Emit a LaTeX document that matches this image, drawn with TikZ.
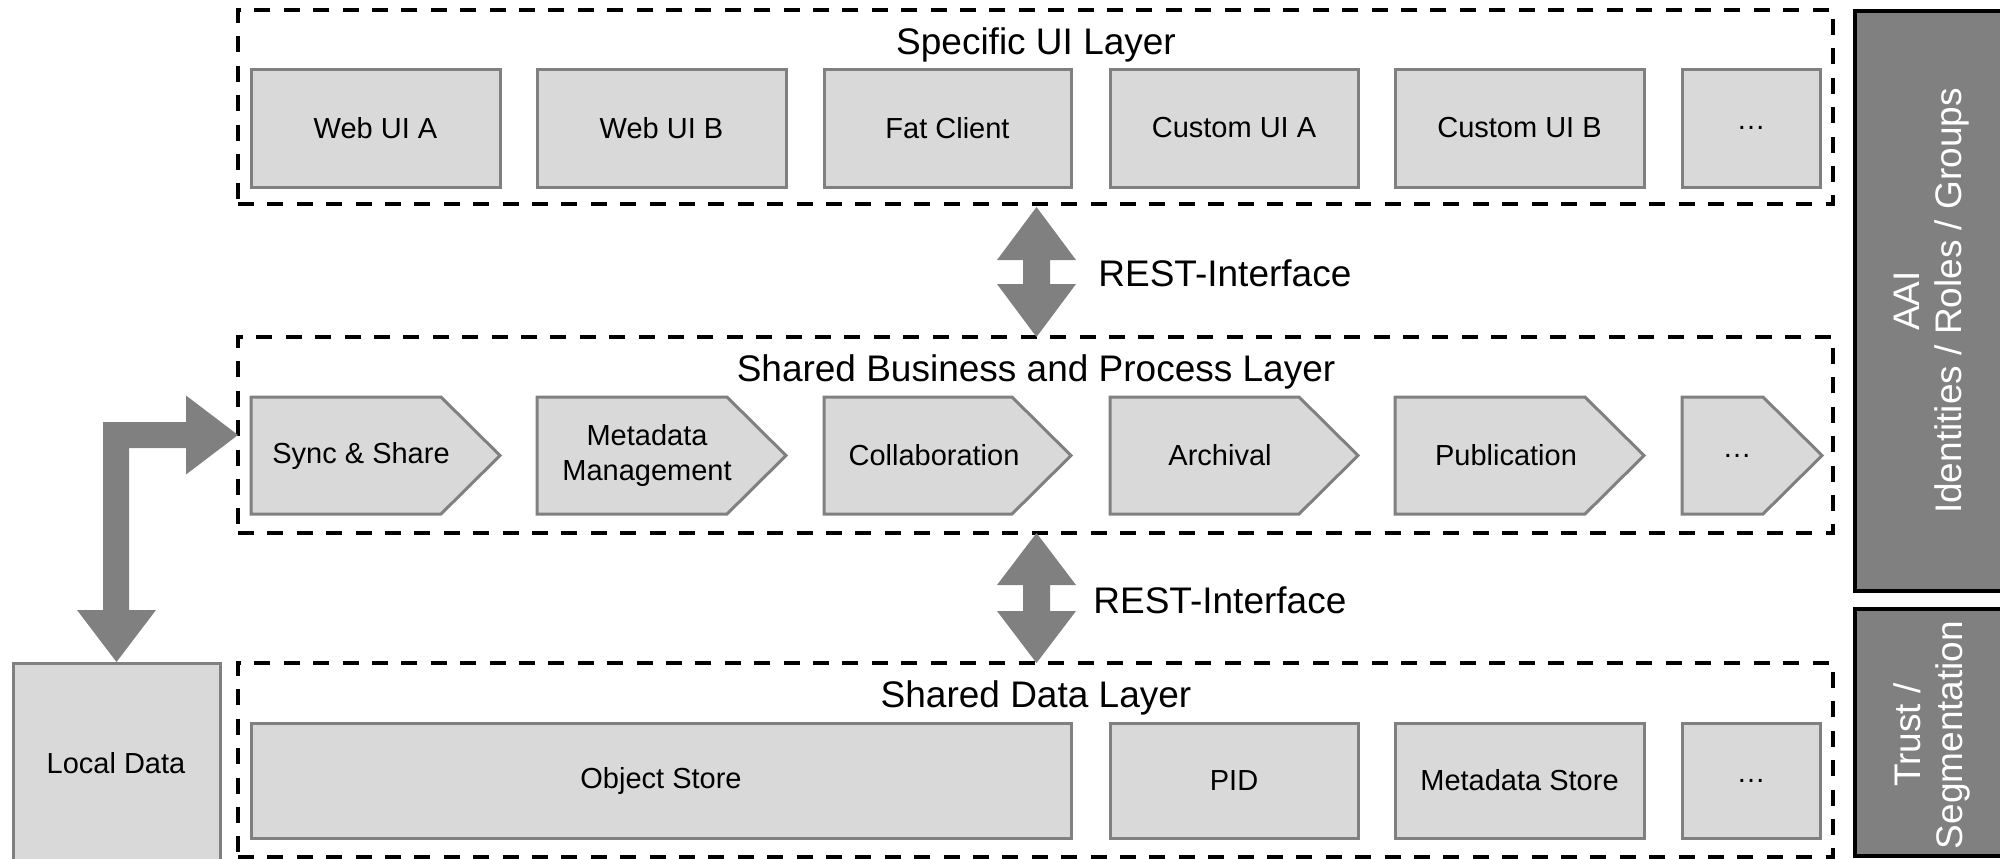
\documentclass[tikz,border=0pt]{standalone}
\usepackage{fontspec}
\setmainfont{Liberation Sans}
\usetikzlibrary{fit}
\definecolor{boxfill}{HTML}{D9D9D9}
\definecolor{boxline}{HTML}{808080}
\definecolor{arrowgray}{HTML}{808080}
\newcommand{\procshape}[2]{%
  \draw[pentstyle] (#1,397) -- ({#2-59},397) -- (#2,455.5) -- ({#2-59},514) -- (#1,514) -- cycle;}
\begin{document}
\begin{tikzpicture}[x=0.5pt,y=-0.5pt,
  layer/.style={draw=black, line width=2pt, dash pattern=on 8pt off 6.7pt, inner sep=0pt},
  box/.style={draw=boxline, fill=boxfill, line width=1.5pt, inner sep=0pt},
  pentstyle/.style={draw=boxline, fill=boxfill, line width=1.5pt, line join=miter},
  boxtext/.style={font=\fontsize{14.5}{17.5}\selectfont, align=center, inner sep=0pt},
  title/.style={font=\fontsize{18.5}{22}\selectfont, inner sep=0pt},
  blockarrow/.style={fill=arrowgray, draw=none},
  panel/.style={draw=black, fill=arrowgray, line width=2pt, inner sep=0pt},
  paneltext/.style={text=white, rotate=90, align=center, font=\fontsize{18.5}{21}\selectfont, inner sep=0pt}
]
\useasboundingbox (0,0) rectangle (2000,858);

% ---------- layers ----------
\node[layer, fit={(238,10) (1833,204)}] (uilayer) {};
\node[layer, fit={(238,337) (1833,533)}] (proclayer) {};
\node[layer, fit={(238,663) (1833,857)}] (datalayer) {};

\node[title] (uititle) at (1036,45) {Specific UI Layer};
\node[title] (proctitle) at (1036,372) {Shared Business and Process Layer};
\node[title] (datatitle) at (1036,698) {Shared Data Layer};

% ---------- UI boxes ----------
\node[box, fit={(251,69) (500,187)}] (webA) {};
\node[boxtext] at (webA.center) {Web UI A};
\node[box, fit={(537,69) (786,187)}] (webB) {};
\node[boxtext] at (webB.center) {Web UI B};
\node[box, fit={(824,69) (1071,187)}] (fat) {};
\node[boxtext] at (fat.center) {Fat Client};
\node[box, fit={(1110,69) (1358,187)}] (custA) {};
\node[boxtext] at (custA.center) {Custom UI A};
\node[box, fit={(1395,69) (1644,187)}] (custB) {};
\node[boxtext] at (custB.center) {Custom UI B};
\node[box, fit={(1682,69) (1820,187)}] (uimore) {};
\node[boxtext] at (uimore.center) {…};

% ---------- process steps ----------
\procshape{251}{500}
\node[boxtext] (sync) at (361,455.5) {Sync \& Share};
\procshape{537}{786}
\node[boxtext] (meta) at (647,455.5) {Metadata\\Management};
\procshape{824}{1071}
\node[boxtext] (collab) at (934,455.5) {Collaboration};
\procshape{1110}{1358}
\node[boxtext] (arch) at (1220,455.5) {Archival};
\procshape{1395}{1644}
\node[boxtext] (pub) at (1506,455.5) {Publication};
\procshape{1682}{1822}
\node[boxtext] (procmore) at (1737,455.5) {…};

% ---------- data boxes ----------
\node[box, fit={(251,723) (1071,838)}] (objstore) {};
\node[boxtext] at (objstore.center) {Object Store};
\node[box, fit={(1110,723) (1358,838)}] (pid) {};
\node[boxtext] at (pid.center) {PID};
\node[box, fit={(1395,723) (1644,838)}] (metastore) {};
\node[boxtext] at (metastore.center) {Metadata Store};
\node[box, fit={(1682,723) (1820,838)}] (datamore) {};
\node[boxtext] at (datamore.center) {…};

% ---------- local data ----------
\node[box, fit={(13,663) (220,880)}] (local) {};
\node[boxtext] at (116,763) {Local Data};

% ---------- L arrow ----------
\fill[blockarrow] (103,422) -- (186,422) -- (186,395.5) -- (238,435) -- (186,474.5)
  -- (186,448) -- (129,448) -- (129,610) -- (156,610) -- (116.5,662) -- (77,610)
  -- (103,610) -- cycle;

% ---------- REST arrows ----------
\fill[blockarrow] (1036.5,207) -- (1076,260) -- (1050,260) -- (1050,284) -- (1076,284)
  -- (1036.5,337) -- (997,284) -- (1023,284) -- (1023,260) -- (997,260) -- cycle;
\node[title, anchor=west] (rest1) at (1098,273) {REST-Interface};
\fill[blockarrow] (1036.5,533) -- (1076,585) -- (1050,585) -- (1050,611) -- (1076,611)
  -- (1036.5,663) -- (997,611) -- (1023,611) -- (1023,585) -- (997,585) -- cycle;
\node[title, anchor=west] (rest2) at (1093,600) {REST-Interface};

% ---------- side panels ----------
\node[panel, fit={(1855,11) (2010,591)}] (aai) {};
\node[paneltext] (aaitext) at (1932,301) {AAI\\Identities / Roles / Groups};
\node[panel, fit={(1855,609) (2010,856)}] (trust) {};
\node[paneltext] (trusttext) at (1932,735) {Trust /\\Segmentation};
\end{tikzpicture}
\end{document}
